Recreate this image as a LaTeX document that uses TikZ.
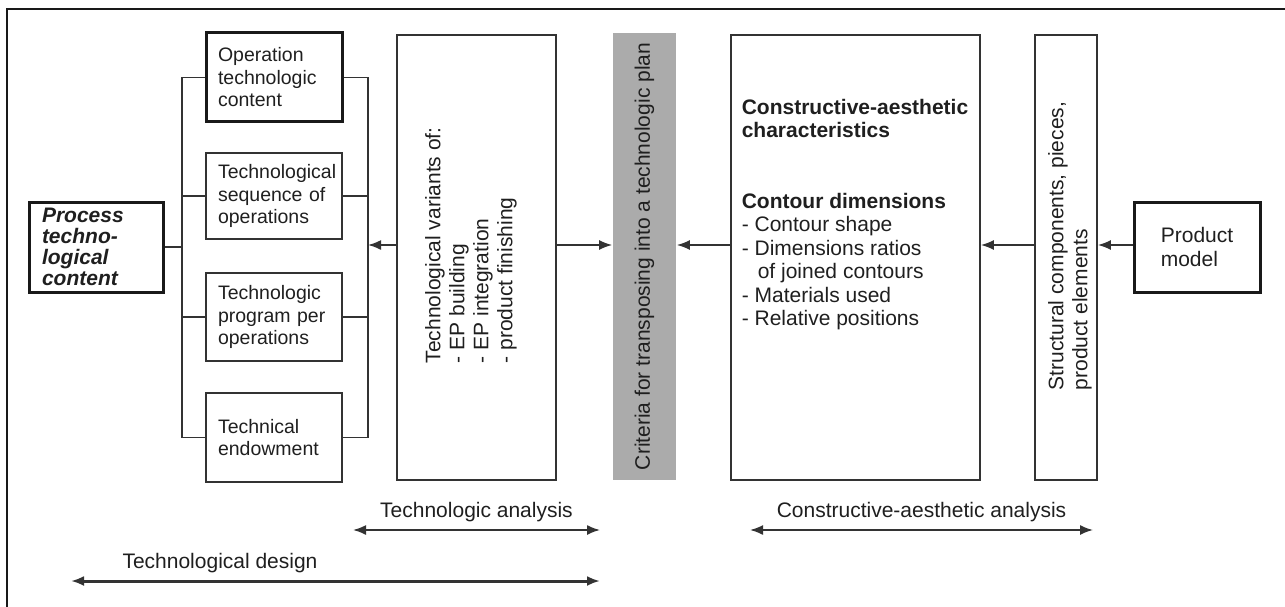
\documentclass[tikz,border=0pt]{standalone}
\usepackage{fontspec}
\setmainfont{Liberation Sans}
\usetikzlibrary{arrows.meta}
\begin{document}
\begin{tikzpicture}[x=1pt,y=-1pt,
  line width=1.6pt,
  >={Latex[length=13pt,width=10pt]},
  every node/.style={text=black!88},
  box/.style={draw=black!80, line width=1.7pt, inner sep=0pt, font=\fontsize{21}{23.5}\selectfont},
  heavy/.style={line width=3pt, draw=black!90},
  smallbox/.style={box, text width=112pt, inner xsep=12pt, align=left, font=\fontsize{19.5}{22.5}\selectfont},
  conn/.style={draw=black!80, line width=1.7pt},
  arr/.style={conn, ->},
  dbl/.style={conn, <->},
  lbl/.style={font=\fontsize{21}{23}\selectfont, inner sep=0pt},
  rot/.style={font=\fontsize{21}{24}\selectfont, inner sep=0pt, align=left}
]
\useasboundingbox (0,0) rectangle (1285,607);
% frame
\draw[line width=1.6pt, black!90] (7,607) -- (7,9) -- (1285,9);

% left part
\node[box, heavy, text width=108pt, inner xsep=13pt, align=left, minimum height=90pt,
      font=\fontsize{21}{21}\selectfont\bfseries\itshape] (proc) at (96,247) {Process\\techno-\\logical\\content};
\node[smallbox, heavy, minimum height=89pt] (op) at (274,77.5) {Operation\\technologic\\content};
\node[smallbox, minimum height=86pt] (seq) at (274,196) {Technological\\sequence of\\operations};
\node[smallbox, minimum height=88pt] (prog) at (274,317) {Technologic\\program per\\operations};
\node[smallbox, minimum height=89pt] (endow) at (274,437.5) {Technical\\endowment};

\coordinate (LB) at (182,0);
\coordinate (RB) at (368,0);
\coordinate (M) at (0,245);

\draw[conn] (op.west) -- (op.west -| LB) -- (endow.west -| LB) -- (endow.west);
\draw[conn] (seq.west) -- (seq.west -| LB);
\draw[conn] (prog.west) -- (prog.west -| LB);
\draw[conn] (proc.east) -- (proc.east -| LB);
\draw[conn] (op.east) -- (op.east -| RB) -- (endow.east -| RB) -- (endow.east);
\draw[conn] (seq.east) -- (seq.east -| RB);
\draw[conn] (prog.east) -- (prog.east -| RB);

% big boxes
\node[box, minimum width=159pt, minimum height=445pt] (var) at (476.5,257.5) {};
\node[rot, rotate=90, anchor=west] (varT) at (471,364) {Technological variants of:\\- EP building\\- EP integration\\- product finishing};

\node[fill=black!33, minimum width=63pt, minimum height=447pt, inner sep=0pt,
      font=\fontsize{21}{24}\selectfont] (crit) at (644.5,256.5) {\rotatebox{90}{Criteria for transposing into a technologic plan}};

\node[box, minimum width=249pt, minimum height=445pt] (cons) at (855.5,257.5) {};
\node[anchor=north west, inner sep=0pt, align=left, font=\fontsize{21}{23.5}\selectfont] (consT) at (741,98)
  {\textbf{Constructive-aesthetic}\\\textbf{characteristics}\\[47pt]
   \textbf{Contour dimensions}\\- Contour shape\\- Dimensions ratios\\\hspace*{16pt}of joined contours\\- Materials used\\- Relative positions};

\node[box, minimum width=62pt, minimum height=445pt] (struc) at (1066,257.5) {};
\node[rot, rotate=90, anchor=west] (strucT) at (1070,391) {Structural components, pieces,\\product elements};

\node[box, heavy, minimum width=126pt, minimum height=90pt, align=left] (prod) at (1197,247) {Product\\model};

% horizontal arrows
\draw[arr] (var.west |- M) -- (RB |- M);
\draw[arr] (var.east |- M) -- (crit.west |- M);
\draw[arr] (cons.west |- M) -- (crit.east |- M);
\draw[arr] (struc.west |- M) -- (cons.east |- M);
\draw[arr] (prod.west |- M) -- (struc.east |- M);

% bottom ranges
\coordinate (ta1) at (353,530);
\coordinate (ta2) at (600,530);
\coordinate (ca1) at (750,530);
\coordinate (ca2) at (1093,530);
\coordinate (td1) at (71,581);
\coordinate (td2) at (600,581);
\draw[dbl] (ta1) -- node[lbl, above=7pt] (taL) {Technologic analysis} (ta2);
\draw[dbl] (ca1) -- node[lbl, above=7pt] (caL) {Constructive-aesthetic analysis} (ca2);
\draw[dbl, line width=3pt] (td1) -- (td2);
\node[lbl] (tdL) at (220,563) {Technological design};
\end{tikzpicture}
\end{document}
